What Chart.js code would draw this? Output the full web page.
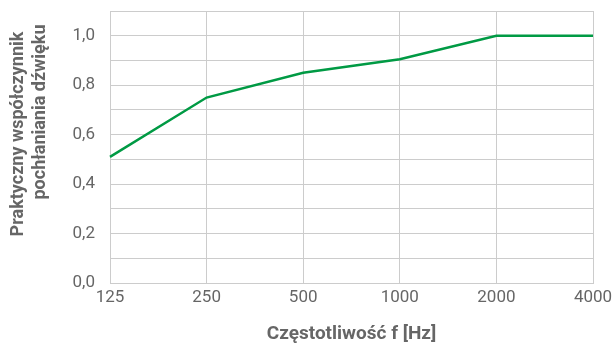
<!DOCTYPE html>
<html>
<head>
<meta charset="utf-8">
<script src="https://cdn.jsdelivr.net/npm/chart.js@4"></script>
<style>
  html, body { margin: 0; padding: 0; background: #fff; }
  #wrap { width: 615px; height: 346px; }
</style>
</head>
<body>
<div id="wrap"><canvas id="absChart"></canvas></div>
<script>
// data block
const frequencies = ['125', '250', '500', '1000', '2000', '4000'];
const absorption = [0.51, 0.75, 0.85, 0.905, 1.0, 1.0];
const yTitleLines = ['Praktyczny współczynnik', 'pochłaniania dźwięku'];
const xTitle = 'Częstotliwość f [Hz]';

const textGray = '#666666';

// draws the two-line y title (lines are not centred on each other in the original)
const yTitlePlugin = {
	id: 'yTitle',
	afterDraw(chart) {
		const ctx = chart.ctx;
		ctx.save();
		ctx.fillStyle = textGray;
		ctx.font = 'bold 18px Roboto';
		ctx.textAlign = 'center';
		ctx.textBaseline = 'middle';
		const pos = [[18, 134], [40, 112]];
		yTitleLines.forEach((line, i) => {
			ctx.save();
			ctx.translate(pos[i][0], pos[i][1]);
			ctx.rotate(-Math.PI / 2);
			ctx.fillText(line, 0, 0);
			ctx.restore();
		});
		ctx.restore();
	},
};

// config block
const config = {
	type: 'line',
	data: {
		labels: frequencies,
		datasets: [
			{
				data: absorption,
				borderColor: '#009a44',
				borderWidth: 2.5,
				pointRadius: 0,
				tension: 0,
			},
		],
	},
	options: {
		responsive: true,
		maintainAspectRatio: false,
		animation: false,
		layout: { padding: { top: 11, right: 22, left: 0, bottom: 0 } },
		plugins: {
			legend: { display: false },
			tooltip: { enabled: false },
		},
		scales: {
			x: {
				offset: false,
				grid: { color: '#cccccc', drawTicks: false, lineWidth: 1 },
				border: { color: '#cccccc' },
				ticks: {
					color: textGray,
					font: { family: 'Roboto', size: 17 },
					padding: 5,
					maxRotation: 0,
				},
				title: {
					display: true,
					text: xTitle,
					color: textGray,
					font: { family: 'Roboto', size: 19, weight: 'bold' },
					padding: { top: 12, bottom: 0 },
				},
				afterFit: (scale) => {
					scale.height = 63;
					scale.paddingLeft = 0;
					scale.paddingRight = 0;
				},
			},
			y: {
				min: 0,
				max: 1.1,
				grid: { color: '#cccccc', drawTicks: false, lineWidth: 1 },
				border: { color: '#cccccc' },
				ticks: {
					stepSize: 0.1,
					color: textGray,
					font: { family: 'Roboto', size: 17 },
					padding: 15,
					callback: (v) => {
						const t = Math.round(v * 10);
						if (t % 2 !== 0) return '';
						return (t / 10).toFixed(1).replace('.', ',');
					},
				},
				afterFit: (scale) => {
					scale.width = 110;
					scale.paddingTop = 0;
					scale.paddingBottom = 0;
				},
			},
		},
	},
	plugins: [yTitlePlugin],
};

// render block
const absChart = new Chart(document.getElementById('absChart'), config);
</script>
</body>
</html>
